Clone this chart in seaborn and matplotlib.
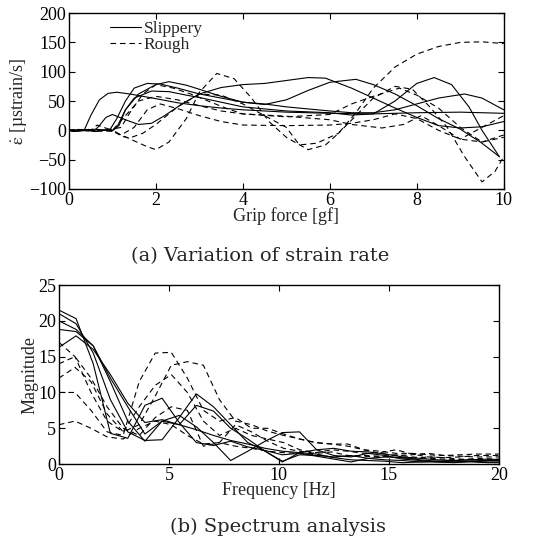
import numpy as np
import pandas as pd
import seaborn as sns
import matplotlib
matplotlib.use('Agg')
import matplotlib.pyplot as plt
from matplotlib.lines import Line2D

sns.set_theme(style='ticks')
plt.rcParams['font.family'] = ['Liberation Serif', 'DejaVu Serif']
plt.rcParams['mathtext.fontset'] = 'stix'

# ---- (a) strain rate vs grip force ----
s1_x = [0, 0.1, 0.2, 0.3, 0.35, 0.5, 0.7, 0.9, 1.1, 1.4, 1.7, 2.0, 2.5, 3.0, 3.5, 4.0, 5.0, 6.0, 7.0, 8.0, 9.0, 10.0]
s1_y = [0, -2, 1, -1, 0, 25, 52, 63, 65, 62, 58, 54, 47, 42, 38, 35, 31, 29, 28, 30, 31, 29]
s2_x = [0, 0.15, 0.3, 0.45, 0.6, 0.7, 0.85, 1.0, 1.3, 1.6, 1.9, 2.2, 2.6, 3.0, 3.5, 4.0, 4.5, 5.0, 5.5, 5.9, 6.5, 7.0, 7.5, 8.0, 8.5, 9.0, 9.5, 10.0]
s2_y = [0, -2, 1, -1, 0, 8, 22, 27, 18, 10, 12, 25, 45, 62, 73, 78, 80, 85, 90, 89, 72, 55, 38, 22, 8, 4, 6, 15]
s3_x = [0, 0.2, 0.4, 0.6, 0.8, 1.0, 1.1, 1.3, 1.6, 2.0, 2.3, 2.7, 3.0, 3.5, 4.0, 4.5, 5.0, 5.5, 6.0, 6.6, 7.0, 7.5, 8.0, 8.5, 9.0, 9.5, 9.9]
s3_y = [0, -1, 1, -2, 0, -1, 5, 35, 62, 78, 83, 77, 70, 58, 48, 44, 52, 68, 82, 87, 78, 62, 42, 20, 2, -22, -45]
s4_x = [0, 0.2, 0.4, 0.6, 0.8, 0.95, 1.1, 1.3, 1.5, 1.8, 2.1, 2.5, 3.0, 3.5, 4.0, 4.5, 5.0, 6.0, 6.5, 7.0, 7.5, 8.0, 8.5, 9.1, 9.5, 10.0]
s4_y = [0, 1, -1, 2, 0, 2, 20, 50, 72, 80, 79, 72, 62, 55, 48, 45, 40, 33, 30, 30, 35, 45, 55, 62, 55, 35]
s5_x = [0, 0.2, 0.4, 0.6, 0.8, 1.0, 1.15, 1.3, 1.5, 1.9, 2.3, 2.7, 3.0, 3.5, 4.0, 5.0, 6.0, 6.5, 7.0, 7.5, 8.0, 8.4, 8.8, 9.2, 9.5, 9.9]
s5_y = [0, -1, 1, -2, 1, 0, 8, 35, 55, 67, 66, 60, 56, 48, 40, 33, 30, 26, 28, 50, 80, 90, 78, 40, 0, -45]

r1_x = [0, 0.2, 0.4, 0.6, 0.8, 1.0, 1.2, 1.5, 1.8, 2.0, 2.3, 2.7, 3.0, 3.4, 3.8, 4.2, 4.6, 5.0, 5.5, 5.9, 6.2, 6.6, 7.0, 7.5, 8.0, 8.5, 9.0, 9.5, 10.0]
r1_y = [0, 1, -1, 2, -1, 0, -8, -18, -28, -33, -20, 20, 65, 97, 88, 55, 15, -12, -33, -25, -5, 30, 72, 108, 130, 143, 150, 151, 148]
r2_x = [0, 0.2, 0.4, 0.6, 0.8, 1.0, 1.2, 1.4, 1.7, 2.0, 2.5, 3.0, 3.5, 4.0, 4.5, 5.0, 5.3, 5.7, 6.2, 6.6, 7.0, 7.5, 7.9, 8.3, 8.7, 9.1, 9.5, 9.8, 10.0]
r2_y = [0, -1, 2, 0, -2, 1, -10, -13, -5, 10, 40, 62, 60, 45, 25, 5, -25, -22, -5, 25, 55, 75, 70, 40, 5, -45, -88, -70, -45]
r3_x = [0, 0.2, 0.4, 0.6, 0.8, 1.0, 1.2, 1.5, 1.8, 2.1, 2.5, 3.0, 3.5, 4.0, 5.0, 6.0, 6.5, 7.0, 7.5, 8.0, 8.5, 9.0, 9.5, 10.0]
r3_y = [0, 2, -1, 1, 0, -2, -8, 5, 35, 45, 37, 25, 15, 9, 8, 9, 12, 18, 28, 20, 0, -15, -20, -8]
r4_x = [0, 0.2, 0.4, 0.5, 0.65, 0.8, 1.0, 1.3, 1.6, 2.0, 2.5, 3.0, 3.5, 4.0, 5.0, 6.0, 6.5, 7.2, 7.7, 8.1, 8.5, 9.0, 9.5, 10.0]
r4_y = [0, 1, -1, 0, 9, 5, 0, 25, 50, 58, 52, 42, 33, 28, 24, 18, 10, 4, 10, 25, 8, -15, 5, 25]
r5_x = [0, 0.2, 0.4, 0.6, 0.8, 1.0, 1.2, 1.4, 1.7, 2.0, 2.4, 2.8, 3.2, 3.6, 4.0, 5.0, 6.0, 6.5, 7.0, 7.6, 8.0, 8.5, 9.0, 9.5, 10.0]
r5_y = [0, -2, 1, -1, 0, 2, 5, 30, 62, 78, 72, 62, 50, 38, 28, 23, 27, 45, 58, 72, 60, 38, 5, -20, -12]

# ---- (b) spectrum ----
freq_a = [0, 0.78, 1.56, 2.34, 3.13, 3.91, 4.69, 5.47, 6.25, 7.03, 7.81, 8.59, 9.38, 10.16,
          10.94, 11.72, 12.5, 13.28, 14.06, 14.84, 15.63, 16.41, 17.19, 17.97, 18.75, 19.53, 20.31]
freq_b = [0, 0.73, 1.46, 2.19, 2.92, 3.65, 4.38, 5.11, 5.84, 6.57, 7.3, 8.03, 8.76, 9.49, 10.22,
          10.95, 11.68, 12.41, 13.14, 13.87, 14.6, 15.33, 16.06, 16.79, 17.52, 18.25, 18.98, 19.71, 20.44]
m_s1 = [21.5, 20.3, 14.0, 4.3, 3.6, 8.2, 9.2, 5.8, 3.0, 2.6, 3.2, 2.4, 1.9, 1.3, 1.5, 1.1, 0.7, 0.3, 0.8, 0.6, 0.5, 0.3, 0.4, 0.3, 0.3, 0.2, 0.2]
m_s2 = [21.0, 19.6, 15.5, 9.0, 4.5, 3.3, 3.4, 6.5, 9.8, 8.0, 5.5, 3.0, 1.8, 0.3, 1.6, 1.4, 0.9, 0.6, 0.5, 0.4, 0.2, 0.3, 0.3, 0.3, 0.4, 0.5, 0.5]
m_s3 = [20.0, 18.8, 16.5, 11.5, 6.0, 3.2, 6.0, 6.8, 5.2, 3.0, 0.5, 1.8, 3.2, 4.4, 4.5, 2.0, 1.2, 1.0, 1.5, 1.2, 0.7, 0.5, 0.3, 0.2, 0.4, 0.3, 0.3]
m_s4 = [18.8, 18.5, 16.5, 12.0, 8.0, 4.2, 6.0, 5.5, 8.2, 7.4, 5.0, 3.5, 1.8, 0.4, 1.3, 1.2, 1.0, 1.2, 0.8, 1.0, 0.9, 0.6, 0.4, 0.5, 0.6, 0.7, 0.6]
m_s5 = [16.3, 17.9, 16.0, 12.5, 8.5, 5.8, 6.2, 5.5, 4.8, 4.0, 3.3, 2.8, 2.2, 1.8, 1.6, 2.0, 2.2, 1.8, 1.7, 1.4, 1.0, 0.8, 0.6, 0.5, 0.6, 0.5, 0.5]
m_r1 = [5.5, 6.0, 5.0, 3.8, 3.5, 5.0, 6.0, 5.5, 4.0, 2.8, 3.0, 2.5, 2.2, 1.8, 1.6, 1.5, 1.3, 1.0, 1.1, 1.2, 1.1, 0.9, 0.8, 1.0, 0.9, 0.7, 0.6, 0.6, 0.6]
m_r2 = [10.0, 10.0, 7.5, 4.5, 4.0, 11.5, 15.5, 15.6, 12.0, 7.5, 6.0, 6.5, 5.0, 5.0, 4.2, 3.5, 3.0, 2.8, 2.8, 2.0, 1.5, 1.2, 1.3, 1.5, 1.2, 1.3, 1.4, 1.4, 1.4]
m_r3 = [12.0, 13.5, 11.5, 7.0, 4.5, 5.5, 9.5, 13.8, 14.3, 13.8, 9.0, 6.0, 5.5, 4.6, 4.0, 3.5, 3.0, 2.8, 2.5, 2.0, 1.8, 1.5, 1.5, 1.3, 1.2, 1.1, 1.0, 1.0, 1.0]
m_r4 = [17.0, 15.0, 10.0, 6.0, 4.5, 8.0, 11.0, 12.5, 10.0, 6.0, 4.0, 5.0, 4.0, 3.5, 3.0, 2.0, 1.6, 2.0, 1.8, 1.5, 1.6, 2.0, 1.4, 1.0, 0.9, 1.0, 1.2, 1.2, 1.2]
m_r5 = [14.0, 15.0, 12.0, 8.0, 5.0, 4.0, 6.5, 8.0, 7.5, 2.5, 3.0, 5.5, 4.5, 3.2, 2.2, 1.8, 1.5, 1.7, 1.2, 1.1, 1.0, 1.3, 1.0, 0.8, 0.7, 0.6, 0.8, 0.7, 0.7]


def long_table(curves):
    rows = []
    for i, (surface, xs, ys) in enumerate(curves):
        for x, y in zip(xs, ys):
            rows.append({'curve': i, 'surface': surface, 'x': x, 'y': y})
    return pd.DataFrame(rows)


top = long_table([
    ('Slippery', s1_x, s1_y), ('Slippery', s2_x, s2_y), ('Slippery', s3_x, s3_y),
    ('Slippery', s4_x, s4_y), ('Slippery', s5_x, s5_y),
    ('Rough', r1_x, r1_y), ('Rough', r2_x, r2_y), ('Rough', r3_x, r3_y),
    ('Rough', r4_x, r4_y), ('Rough', r5_x, r5_y),
])
bottom = long_table([
    ('Slippery', freq_a, m_s1), ('Slippery', freq_a, m_s2), ('Slippery', freq_a, m_s3),
    ('Slippery', freq_a, m_s4), ('Slippery', freq_a, m_s5),
    ('Rough', freq_b, m_r1), ('Rough', freq_b, m_r2), ('Rough', freq_b, m_r3),
    ('Rough', freq_b, m_r4), ('Rough', freq_b, m_r5),
])

dash_map = {'Slippery': '', 'Rough': (5, 3.5)}
FS = 13

fig = plt.figure(figsize=(5.56, 5.46), dpi=100)
ax1 = fig.add_axes([0.124, 0.654, 0.782, 0.322])
ax2 = fig.add_axes([0.106, 0.150, 0.791, 0.328])


def style_axes(ax):
    ax.tick_params(direction='in', top=True, right=True, length=4, width=0.8,
                   labelsize=FS, colors='black', pad=2)
    for sp in ax.spines.values():
        sp.set_linewidth(1.0)
        sp.set_color('black')


sns.lineplot(data=top, x='x', y='y', units='curve', style='surface', dashes=dash_map,
             estimator=None, color='black', linewidth=0.8, legend=False, sort=False, ax=ax1)
ax1.set_xlim(0, 10)
ax1.set_ylim(-100, 200)
ax1.set_xticks([0, 2, 4, 6, 8, 10])
ax1.set_yticks([-100, -50, 0, 50, 100, 150, 200])
ax1.set_xlabel('Grip force [gf]', fontsize=FS, labelpad=-1)
ax1.set_ylabel(r'$\dot{\mathrm{\varepsilon}}$ [µstrain/s]', fontsize=FS, labelpad=0)
style_axes(ax1)
handles = [Line2D([], [], color='black', lw=0.8, linestyle='-'),
           Line2D([], [], color='black', lw=0.8, linestyle=(0, (5, 3.5)))]
ax1.legend(handles, ['Slippery', 'Rough'], loc='upper left', bbox_to_anchor=(0.07, 1.015),
           frameon=False, fontsize=12.5, handlelength=1.8, handletextpad=0.15,
           labelspacing=0.0, borderaxespad=0.2)

sns.lineplot(data=bottom, x='x', y='y', units='curve', style='surface', dashes=dash_map,
             estimator=None, color='black', linewidth=0.8, legend=False, sort=False, ax=ax2)
ax2.set_xlim(0, 20)
ax2.set_ylim(0, 25)
ax2.set_xticks([0, 5, 10, 15, 20])
ax2.set_yticks([0, 5, 10, 15, 20, 25])
ax2.set_xlabel('Frequency [Hz]', fontsize=FS, labelpad=-1)
ax2.set_ylabel('Magnitude', fontsize=FS, labelpad=0)
style_axes(ax2)

fig.text(260 / 556, 1 - 256 / 546, '(a) Variation of strain rate', ha='center', va='center',
         fontsize=14, family='DejaVu Serif')
fig.text(278 / 556, 1 - 527 / 546, '(b) Spectrum analysis', ha='center', va='center',
         fontsize=14, family='DejaVu Serif')

fig.savefig('out.png', dpi=100)
